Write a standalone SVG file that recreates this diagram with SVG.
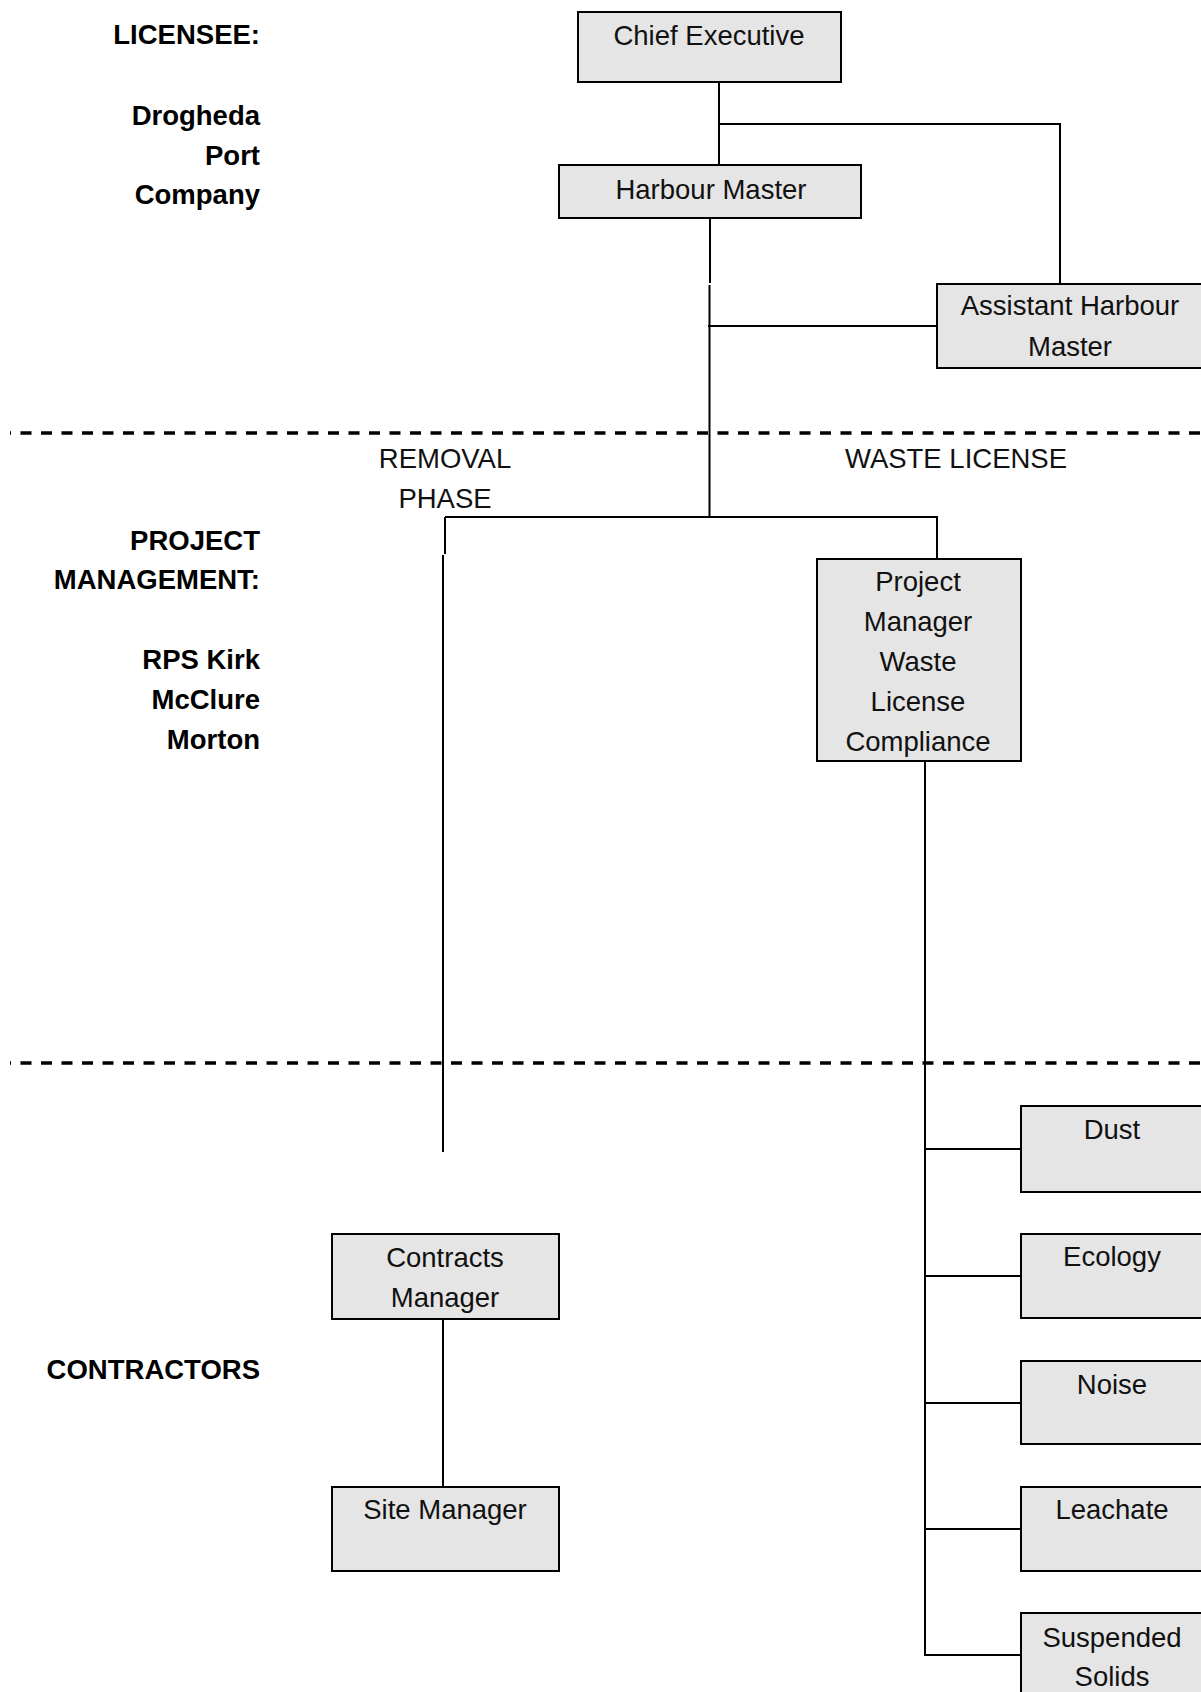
<svg xmlns="http://www.w3.org/2000/svg" width="1201" height="1692" viewBox="0 0 1201 1692">
<style>
  .box { fill: #e5e5e5; stroke: #000; stroke-width: 2; }
  .t { font-family: "Liberation Sans", Arial, sans-serif; font-size: 27.5px; fill: #111; text-anchor: middle; }
  .lab { font-family: "Liberation Sans", Arial, sans-serif; font-size: 27.5px; font-weight: bold; fill: #000; text-anchor: end; }
  .con { fill: none; stroke: #000; stroke-width: 2; }
  .dash { fill: none; stroke: #000; stroke-width: 3.5; stroke-dasharray: 11 9.5; stroke-dashoffset: 10; }
</style>
<rect width="1201" height="1692" fill="#fff"/>

<g id="separators">
  <line class="dash" x1="10" y1="433" x2="1201" y2="433"/>
  <line class="dash" x1="10" y1="1063" x2="1201" y2="1063"/>
</g>

<g id="labels">
  <text class="lab" x="260" y="44">LICENSEE:</text>
  <text class="lab" x="260" y="125">Drogheda</text>
  <text class="lab" x="260" y="165">Port</text>
  <text class="lab" x="260" y="204">Company</text>
  <text class="lab" x="260" y="550">PROJECT</text>
  <text class="lab" x="260" y="589">MANAGEMENT:</text>
  <text class="lab" x="260" y="669">RPS Kirk</text>
  <text class="lab" x="260" y="709">McClure</text>
  <text class="lab" x="260" y="749">Morton</text>
  <text class="lab" x="260" y="1379">CONTRACTORS</text>
  <text class="t" x="445" y="468">REMOVAL</text>
  <text class="t" x="445" y="508">PHASE</text>
  <text class="t" x="956" y="468">WASTE LICENSE</text>
</g>

<g id="connectors">
  <path class="con" d="M719,82 V165"/>
  <path class="con" d="M719,124 H1060 V284"/>
  <path class="con" d="M710,218 V283"/>
  <path class="con" d="M709.5,285 V517"/>
  <path class="con" d="M708,326 H937"/>
  <path class="con" d="M445,517 H937 V559"/>
  <path class="con" d="M445,517 V554"/>
  <path class="con" d="M443,555 V1152"/>
  <path class="con" d="M443,1319 V1487"/>
  <path class="con" d="M925,761 V1655 H1021"/>
  <path class="con" d="M925,1149 H1021 M925,1276 H1021 M925,1403 H1021 M925,1529 H1021"/>
</g>

<g id="chief-executive">
  <rect class="box" x="578" y="12" width="263" height="70"/>
  <text class="t" x="709" y="45">Chief Executive</text>
</g>
<g id="harbour-master">
  <rect class="box" x="559" y="165" width="302" height="53"/>
  <text class="t" x="711" y="199">Harbour Master</text>
</g>
<g id="assistant-harbour-master">
  <rect class="box" x="937" y="284" width="270" height="84"/>
  <text class="t" x="1070" y="315">Assistant Harbour</text>
  <text class="t" x="1070" y="356">Master</text>
</g>
<g id="project-manager">
  <rect class="box" x="817" y="559" width="204" height="202"/>
  <text class="t" x="918" y="591">Project</text>
  <text class="t" x="918" y="631">Manager</text>
  <text class="t" x="918" y="671">Waste</text>
  <text class="t" x="918" y="711">License</text>
  <text class="t" x="918" y="751">Compliance</text>
</g>
<g id="contracts-manager">
  <rect class="box" x="332" y="1234" width="227" height="85"/>
  <text class="t" x="445" y="1267">Contracts</text>
  <text class="t" x="445" y="1307">Manager</text>
</g>
<g id="site-manager">
  <rect class="box" x="332" y="1487" width="227" height="84"/>
  <text class="t" x="445" y="1519">Site Manager</text>
</g>
<g id="dust">
  <rect class="box" x="1021" y="1106" width="190" height="86"/>
  <text class="t" x="1112" y="1139">Dust</text>
</g>
<g id="ecology">
  <rect class="box" x="1021" y="1234" width="190" height="84"/>
  <text class="t" x="1112" y="1266">Ecology</text>
</g>
<g id="noise">
  <rect class="box" x="1021" y="1361" width="190" height="83"/>
  <text class="t" x="1112" y="1394">Noise</text>
</g>
<g id="leachate">
  <rect class="box" x="1021" y="1487" width="190" height="84"/>
  <text class="t" x="1112" y="1519">Leachate</text>
</g>
<g id="suspended-solids">
  <rect class="box" x="1021" y="1613" width="190" height="100"/>
  <text class="t" x="1112" y="1647">Suspended</text>
  <text class="t" x="1112" y="1686">Solids</text>
</g>
</svg>
